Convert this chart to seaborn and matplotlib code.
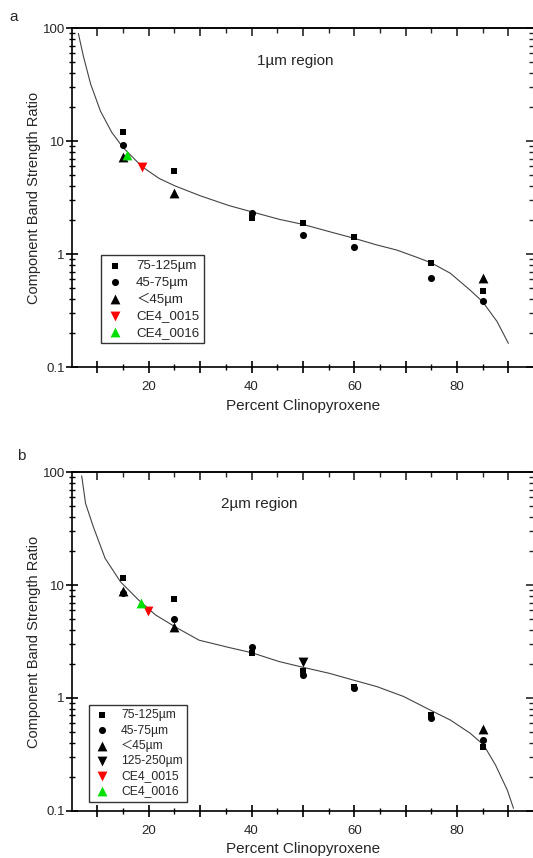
import numpy as np
import matplotlib
matplotlib.use("Agg")
import matplotlib.pyplot as plt
import seaborn as sns

# ---- 1 µm region (panel a) ----
a_x_75_125 = [15, 25, 40, 50, 60, 75, 85]
a_y_75_125 = [12.0, 5.5, 2.08, 1.90, 1.43, 0.84, 0.47]
a_x_45_75 = [15, 40, 50, 60, 75, 85]
a_y_45_75 = [9.2, 2.33, 1.48, 1.16, 0.62, 0.39]
a_x_lt45 = [15, 25, 85]
a_y_lt45 = [7.2, 3.5, 0.62]
a_x_ce15 = [18.7]
a_y_ce15 = [5.95]
a_x_ce16 = [15.8]
a_y_ce16 = [7.6]
a_fit_x = [6.3, 7.3, 8.7, 10.6, 12.8, 15.0, 18.7, 22.0, 25.0, 30.0, 35.6, 40.0,
           45.4, 50.0, 55.2, 60.0, 64.4, 68.3, 72.2, 75.0, 78.7, 82.6, 85.0, 87.8, 90.0]
a_fit_y = [90, 56, 32, 18.5, 12.0, 8.8, 5.96, 4.7, 4.05, 3.3, 2.7, 2.38,
           2.04, 1.84, 1.585, 1.385, 1.21, 1.09, 0.94, 0.84, 0.68, 0.48, 0.38, 0.254, 0.163]

# ---- 2 µm region (panel b) ----
b_x_75_125 = [15, 25, 40, 50, 60, 75, 85]
b_y_75_125 = [11.5, 7.6, 2.5, 1.75, 1.24, 0.71, 0.37]
b_x_45_75 = [15, 25, 40, 50, 60, 75, 85]
b_y_45_75 = [8.5, 5.05, 2.82, 1.60, 1.22, 0.66, 0.42]
b_x_lt45 = [15, 25, 85]
b_y_lt45 = [8.9, 4.25, 0.525]
b_x_125_250 = [50]
b_y_125_250 = [2.09]
b_x_ce15 = [19.8]
b_y_ce15 = [5.93]
b_x_ce16 = [18.4]
b_y_ce16 = [7.0]
b_fit_x = [6.95, 7.7, 9.2, 11.5, 14.5, 18.0, 21.3, 25.2, 29.8, 35.6, 40.0, 45.4,
           50.0, 55.2, 59.8, 64.4, 69.6, 74.8, 78.7, 82.6, 85.2, 87.5, 89.8, 91.0]
b_fit_y = [93, 53, 33, 17.3, 10.7, 7.4, 5.45, 4.25, 3.25, 2.8, 2.52, 2.10,
           1.87, 1.65, 1.44, 1.26, 1.03, 0.78, 0.637, 0.485, 0.382, 0.254, 0.152, 0.105]

x_ticks = [10, 20, 30, 40, 50, 60, 70, 80, 90]
x_ticklabels = ["", "20", "", "40", "", "60", "", "80", ""]
y_ticks = [0.1, 1, 10, 100]
y_ticklabels = ["0.1", "1", "10", "100"]

sns.set_style("white")
plt.rcParams["font.family"] = ["Liberation Sans", "Noto Sans CJK SC", "DejaVu Sans"]
plt.rcParams["axes.linewidth"] = 1.2

fig = plt.figure(figsize=(5.33, 8.58), dpi=100)
ax_a = fig.add_axes([0.1345, 0.5719, 0.8675, 0.3951])
ax_b = fig.add_axes([0.1345, 0.0551, 0.8675, 0.3944])

SQ = 24
CI = 26
TRI = 50


def scatter(ax, x, y, marker, color, size, label):
    sns.scatterplot(x=x, y=y, marker=marker, color=color, s=size,
                    linewidth=0, ax=ax, label=label, zorder=3)


def style_axes(ax, region_text, text_x, legend_anchor, legend_fs, legend_spacing):
    ax.set_yscale("log")
    ax.set_xlim(5, 95)
    ax.set_ylim(0.1, 100)
    ax.set_xticks(x_ticks)
    ax.set_xticklabels(x_ticklabels)
    ax.set_xticks(np.arange(15, 95, 10), minor=True)
    ax.set_yticks(y_ticks)
    ax.set_yticklabels(y_ticklabels)
    for s in ax.spines.values():
        s.set_color("black")
    ax.tick_params(axis="both", which="major", direction="inout", length=9,
                   width=1.2, labelsize=9.5, color="black",
                   left=True, bottom=True)
    ax.tick_params(axis="both", which="minor", direction="inout", length=5,
                   width=1.0, color="black", left=True, bottom=True)
    ax.tick_params(axis="x", which="major", pad=5.5)
    ax.tick_params(axis="y", which="major", pad=0.5)
    # inward ticks on the opposite sides
    top = ax.secondary_xaxis("top")
    top.set_xticks(x_ticks)
    top.set_xticks(np.arange(15, 95, 10), minor=True)
    top.tick_params(which="major", direction="in", length=6, width=1.2, labeltop=False)
    top.tick_params(which="minor", direction="in", length=3.5, width=1.0)
    top.set_xticklabels([])
    right = ax.secondary_yaxis("right")
    right.tick_params(which="major", direction="in", length=6, width=1.2, labelright=False)
    right.tick_params(which="minor", direction="in", length=3.5, width=1.0)
    right.set_yticklabels([])
    right.set_yticklabels([], minor=True)

    ax.set_xlabel("Percent Clinopyroxene", fontsize=11, labelpad=4)
    ax.set_ylabel("Component Band Strength Ratio", fontsize=10.5, labelpad=1)
    ax.text(text_x, 0.905, region_text, transform=ax.transAxes, fontsize=11,
            ha="center", va="center")

    handles, labels = ax.get_legend_handles_labels()
    ax.legend(handles, labels, loc="upper left", bbox_to_anchor=legend_anchor,
              fontsize=legend_fs, frameon=True, fancybox=False, framealpha=1,
              edgecolor="#333333", borderpad=0.35, labelspacing=legend_spacing,
              handletextpad=0.9, handlelength=1.4, borderaxespad=0)
    ax.get_legend().get_frame().set_linewidth(1.0)


# Panel a: 1 µm band
scatter(ax_a, a_x_75_125, a_y_75_125, "s", "black", SQ, "75-125µm")
scatter(ax_a, a_x_45_75, a_y_45_75, "o", "black", CI, "45-75µm")
scatter(ax_a, a_x_lt45, a_y_lt45, "^", "black", TRI, "\uff1c45µm")
scatter(ax_a, a_x_ce15, a_y_ce15, "v", "#ff0000", TRI, "CE4_0015")
scatter(ax_a, a_x_ce16, a_y_ce16, "^", "#00e000", TRI, "CE4_0016")
sns.lineplot(x=a_fit_x, y=a_fit_y, sort=False, estimator=None, color="#444444",
             linewidth=0.8, ax=ax_a, legend=False, zorder=2)
style_axes(ax_a, "1µm region", 0.483, (0.063, 0.330), 9.6, 0.3)

# Panel b: 2 µm band
scatter(ax_b, b_x_75_125, b_y_75_125, "s", "black", SQ, "75-125µm")
scatter(ax_b, b_x_45_75, b_y_45_75, "o", "black", CI, "45-75µm")
scatter(ax_b, b_x_lt45, b_y_lt45, "^", "black", TRI, "\uff1c45µm")
scatter(ax_b, b_x_125_250, b_y_125_250, "v", "black", TRI, "125-250µm")
scatter(ax_b, b_x_ce15, b_y_ce15, "v", "#ff0000", TRI, "CE4_0015")
scatter(ax_b, b_x_ce16, b_y_ce16, "^", "#00e000", TRI, "CE4_0016")
sns.lineplot(x=b_fit_x, y=b_fit_y, sort=False, estimator=None, color="#444444",
             linewidth=0.8, ax=ax_b, legend=False, zorder=2)
style_axes(ax_b, "2µm region", 0.406, (0.0376, 0.312), 8.7, 0.26)

fig.text(0.026, 0.980, "a", fontsize=11, ha="center", va="center")
fig.text(0.039, 0.468, "b", fontsize=11, ha="center", va="center")

fig.savefig("out.png", dpi=100)
